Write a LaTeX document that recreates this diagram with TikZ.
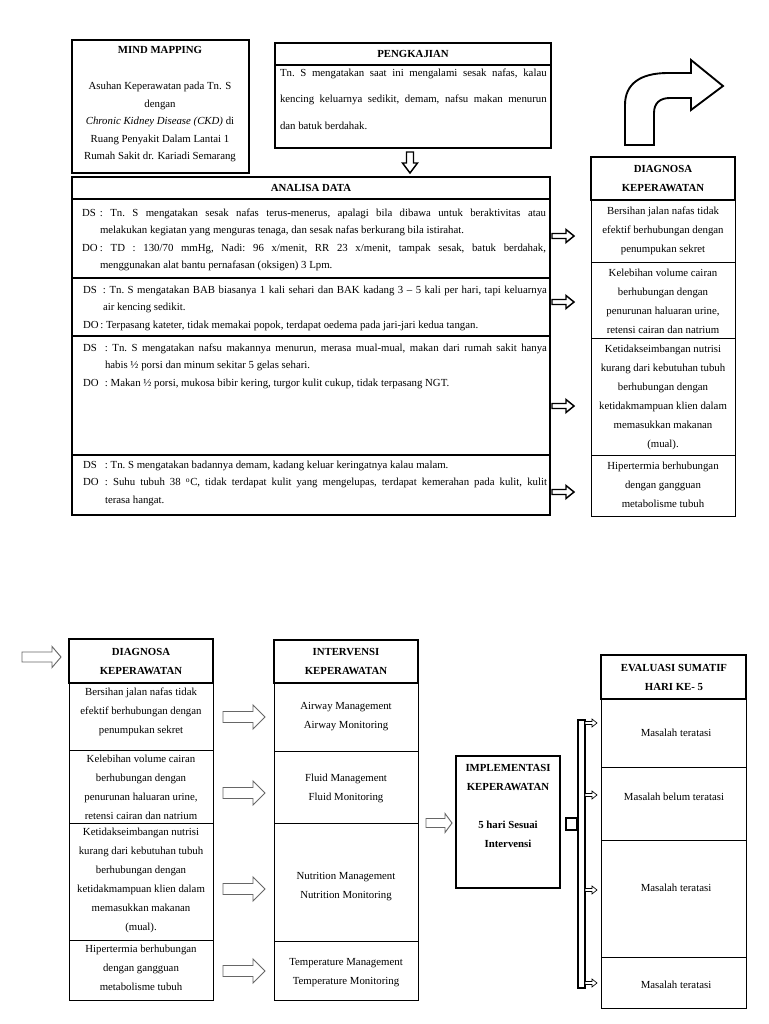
\documentclass[tikz,border=0pt]{standalone}
\usepackage{fontspec}
\setmainfont{Liberation Serif}
\hyphenpenalty=10000
\exhyphenpenalty=10000
\tikzset{
  x=0.75pt,y=-0.75pt,
  every node/.style={inner sep=0pt,outer sep=0pt},
  tx/.style={font=\fontsize{8.1}{14.25}\selectfont,align=center},
  hd/.style={font=\bfseries\fontsize{8.1}{14.25}\selectfont,align=center},
  para/.style={font={\fontsize{8.1}{13}\selectfont\frenchspacing\spaceskip=.25em plus .35em minus .1em},anchor=base west,align=justify},
  box/.style={draw,line width=0.7pt},
  boxhead/.style={draw,line width=1.7pt},
  barrow/.style={draw,line width=1.1pt,fill=white,line join=miter},
  garrow/.style={draw=black!60,line width=0.7pt,fill=white},
  sarrow/.style={draw,line width=0.5pt,fill=white},
}
\newcommand{\cell}[6][]{%
  \pgfmathsetmacro\cw{(#5-#3)*0.75}\pgfmathsetmacro\ch{(#6-#4)*0.75}%
  \pgfmathsetmacro\cx{(#3+#5)/2}\pgfmathsetmacro\cy{(#4+#6)/2}%
  \node[box,#1,minimum width=\cw pt,minimum height=\ch pt] (#2) at (\cx,\cy) {};}
\newcommand{\rarr}[7]{%
  \draw[#1] (#2,#3-#6) -- (#4,#3-#6) -- (#4,#3-#7) -- (#5,#3) -- (#4,#3+#7) -- (#4,#3+#6) -- (#2,#3+#6) -- cycle;}
\newcommand{\darr}[7]{%
  \draw[#1] (#2-#6,#3) -- (#2-#6,#4) -- (#2-#7,#4) -- (#2,#5) -- (#2+#7,#4) -- (#2+#6,#4) -- (#2+#6,#3) -- cycle;}
\newcommand{\ent}[3]{\hangindent=#1\hangafter=1\noindent\makebox[#1][l]{#2}#3\par}
\begin{document}
\begin{tikzpicture}
\fill[white] (0,0) rectangle (768,1024);
\useasboundingbox (0,0) rectangle (768,1024);

% ---------- Mind mapping ----------
\cell[line width=1pt]{mm}{72}{40}{249}{173}
\node[hd] (mmt) at (160,50) {MIND MAPPING};
\node[tx,font=\fontsize{8.1}{13.1}\selectfont] (mmb) at (160,122) {Asuhan Keperawatan pada Tn. S\\dengan\\\textit{Chronic Kidney Disease (CKD)} di\\Ruang Penyakit Dalam Lantai 1\\Rumah Sakit dr. Kariadi Semarang};

% ---------- Pengkajian ----------
\cell[line width=1pt]{pkb}{275}{65}{551}{148}
\cell[boxhead]{pkh}{275}{43}{551}{65}
\node[hd] (pkt) at (413,54) {PENGKAJIAN};
\node[para,text width=200pt,font={\fontsize{8.1}{19.8}\selectfont\frenchspacing}] (pktx) at (280,76.5) {Tn. S mengatakan saat ini mengalami sesak nafas, kalau\linebreak kencing keluarnya sedikit, demam, nafsu makan menurun\linebreak dan batuk berdahak.};
\darr{barrow}{410}{152}{163}{173}{3.5}{7.5}

% ---------- Analisa data ----------
\cell[line width=0.8pt]{a4}{72}{455}{550}{515}
\cell[line width=0.8pt]{a3}{72}{336}{550}{455}
\cell[line width=0.8pt]{a2}{72}{278}{550}{336}
\cell[line width=1.3pt]{a1}{72}{199}{550}{278}
\cell[boxhead]{ah}{72}{177}{550}{199}
\node[hd] (aht) at (311,188) {ANALISA DATA};
\node[para,text width=348pt] (p1) at (82,216.5) {\ent{13.5pt}{DS}{: Tn. S mengatakan sesak nafas terus-menerus, apalagi bila dibawa untuk beraktivitas atau\linebreak melakukan kegiatan yang menguras tenaga, dan sesak nafas berkurang bila istirahat.}\ent{13.5pt}{DO}{: TD : 130/70 mmHg, Nadi: 96 x/menit, RR 23 x/menit, tampak sesak, batuk berdahak,\linebreak menggunakan alat bantu pernafasan (oksigen) 3 Lpm.}};
\node[para,text width=348pt] (p2) at (83,293.5) {\ent{15pt}{DS}{: Tn. S mengatakan BAB biasanya 1 kali sehari dan BAK kadang 3 – 5 kali per hari, tapi keluarnya\linebreak air kencing sedikit.}\ent{13pt}{DO}{: Terpasang kateter, tidak memakai popok, terdapat oedema pada jari-jari kedua tangan.}};
\node[para,text width=348pt] (p3) at (83,351.5) {\ent{16.5pt}{DS}{: Tn. S mengatakan nafsu makannya menurun, merasa mual-mual, makan dari rumah sakit hanya\linebreak habis ½ porsi dan minum sekitar 5 gelas sehari.}\ent{16.5pt}{DO}{: Makan ½ porsi, mukosa bibir kering, turgor kulit cukup, tidak terpasang NGT.}};
\node[para,text width=348pt] (p4) at (83,468.5) {\ent{16.5pt}{DS}{: Tn. S mengatakan badannya demam, kadang keluar keringatnya kalau malam.}\ent{16.5pt}{DO}{: Suhu tubuh 38 \textsuperscript{o}C, tidak terdapat kulit yang mengelupas, terdapat kemerahan pada kulit, kulit\linebreak terasa hangat.}};

\rarr{barrow}{552}{236}{566}{574}{2.5}{6.5}
\rarr{barrow}{552}{302}{566}{574}{2.5}{6.5}
\rarr{barrow}{552}{406}{566}{574}{2.5}{6.5}
\rarr{barrow}{552}{492}{566}{574}{2.5}{6.5}

% ---------- Diagnosa (top) ----------
\cell{d1}{591}{200}{735}{262}
\cell{d2}{591}{262}{735}{338}
\cell{d3}{591}{338}{735}{455}
\cell{d4}{591}{455}{735}{516}
\cell[boxhead]{dh}{591}{157}{735}{200}
\node[hd] (dht) at (663,178.5) {DIAGNOSA\\KEPERAWATAN};
\node[tx] (d1t) at (663,231) {Bersihan jalan nafas tidak\\efektif berhubungan dengan\\penumpukan sekret};
\node[tx] (d2t) at (663,301) {Kelebihan volume cairan\\berhubungan dengan\\penurunan haluaran urine,\\retensi cairan dan natrium};
\node[tx] (d3t) at (663,397) {Ketidakseimbangan nutrisi\\kurang dari kebutuhan tubuh\\berhubungan dengan\\ketidakmampuan klien dalam\\memasukkan makanan\\(mual).};
\node[tx] (d4t) at (663,484.5) {Hipertermia berhubungan\\dengan gangguan\\metabolisme tubuh};

% bent arrow
\draw[line width=1.4pt,fill=white,line join=miter] (625,145) -- (625,105) .. controls (625,84) and (640,73) .. (668,73) -- (691,73) -- (691,60) -- (723,86) -- (691,110) -- (691,98) -- (670,98) .. controls (660,98) and (654,103) .. (654,113) -- (654,145) -- cycle;

% ---------- Bottom section ----------
\rarr{garrow}{22}{657}{52}{61}{5}{10.5}

\cell{b1}{69}{683}{213}{750}
\cell{b2}{69}{750}{213}{823}
\cell{b3}{69}{823}{213}{940}
\cell{b4}{69}{940}{213}{1000}
\cell[boxhead]{bh}{69}{639}{213}{683}
\node[hd] (bht) at (141,661) {DIAGNOSA\\KEPERAWATAN};
\node[tx] (b1t) at (141,712) {Bersihan jalan nafas tidak\\efektif berhubungan dengan\\penumpukan sekret};
\node[tx] (b2t) at (141,787) {Kelebihan volume cairan\\berhubungan dengan\\penurunan haluaran urine,\\retensi cairan dan natrium};
\node[tx] (b3t) at (141,880) {Ketidakseimbangan nutrisi\\kurang dari kebutuhan tubuh\\berhubungan dengan\\ketidakmampuan klien dalam\\memasukkan makanan\\(mual).};
\node[tx] (b4t) at (141,968) {Hipertermia berhubungan\\dengan gangguan\\metabolisme tubuh};

\rarr{garrow}{223}{717}{253}{265}{5.5}{12}
\rarr{garrow}{223}{793}{253}{265}{5.5}{12}
\rarr{garrow}{223}{889}{253}{265}{5.5}{12}
\rarr{garrow}{223}{971}{253}{265}{5.5}{12}

\cell{i1}{274}{683}{418}{751}
\cell{i2}{274}{751}{418}{823}
\cell{i3}{274}{823}{418}{941}
\cell{i4}{274}{941}{418}{1000}
\cell[boxhead]{ih}{274}{640}{418}{683}
\node[hd] (iht) at (346,661) {INTERVENSI\\KEPERAWATAN};
\node[tx] (i1t) at (346,716.5) {Airway Management\\Airway Monitoring};
\node[tx] (i2t) at (346,788.5) {Fluid Management\\Fluid Monitoring};
\node[tx] (i3t) at (346,886.5) {Nutrition Management\\Nutrition Monitoring};
\node[tx] (i4t) at (346,973) {Temperature Management\\Temperature Monitoring};

\rarr{garrow}{426}{823}{445}{452}{4.5}{9.5}
\cell[line width=1.6pt]{im}{456}{756}{560}{888}
\node[hd] (imt) at (508,805.5) {IMPLEMENTASI\\KEPERAWATAN\\[14.25pt]5 hari Sesuai\\Intervensi};

\cell[line width=0.8pt]{sq}{566}{818}{577}{830}
\cell[line width=0.8pt]{bar}{578}{720}{585}{988}
\rarr{sarrow}{585}{723}{592}{597}{1.5}{4}
\rarr{sarrow}{585}{795}{592}{597}{1.5}{4}
\rarr{sarrow}{585}{890}{592}{597}{1.5}{4}
\rarr{sarrow}{585}{983}{592}{597}{1.5}{4}

\cell{e1}{601}{699}{746}{767}
\cell{e2}{601}{767}{746}{840}
\cell{e3}{601}{840}{746}{957}
\cell{e4}{601}{957}{746}{1008}
\cell[boxhead]{eh}{601}{655}{746}{699}
\node[hd] (eht) at (674,677.5) {EVALUASI SUMATIF\\HARI KE- 5};
\node[tx] (e1t) at (676,733) {Masalah teratasi};
\node[tx] (e2t) at (674,797) {Masalah belum teratasi};
\node[tx] (e3t) at (676,888) {Masalah teratasi};
\node[tx] (e4t) at (676,985) {Masalah teratasi};
\end{tikzpicture}
\end{document}
